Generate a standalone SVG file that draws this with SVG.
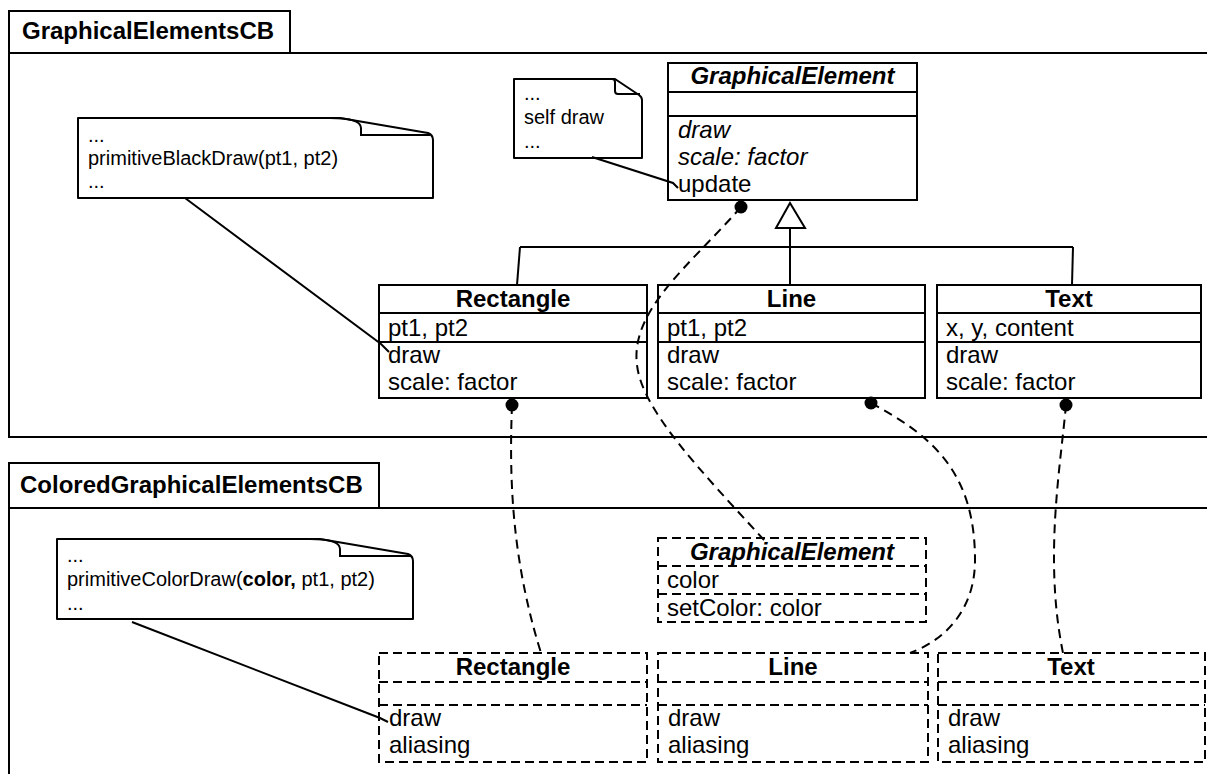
<svg xmlns="http://www.w3.org/2000/svg" width="1207" height="774" viewBox="0 0 1207 774">
<style>
.pk{fill:none;stroke:#000;stroke-width:2}
.box{fill:#fff;stroke:#000;stroke-width:2}
.dbox{fill:#fff;stroke:#000;stroke-width:2;stroke-dasharray:9 5}
.ln{fill:none;stroke:#000;stroke-width:2}
.dl{fill:none;stroke:#000;stroke-width:2;stroke-dasharray:9 5}
.dln{fill:none;stroke:#000;stroke-width:2;stroke-dasharray:9 6}
.note{fill:#fff;stroke:#000;stroke-width:2;stroke-linejoin:round}
.fold{fill:none;stroke:#000;stroke-width:2}
text{font-family:"Liberation Sans",Arial,Helvetica,sans-serif;fill:#000}
.t{font-size:24px}
.c{text-anchor:middle}
.b{font-weight:bold}
.i{font-style:italic}
.n{font-size:20px}
.dot{fill:#000}
</style>
<rect width="1207" height="774" fill="#fff"/>

<g id="pkg-graphical">
<path class="pk" d="M9,53 V11 H290 V53"/>
<path class="pk" d="M1208,53 H9 V437 H1208"/>
<text class="t b" x="22" y="39">GraphicalElementsCB</text>
</g>
<g id="pkg-colored">
<path class="pk" d="M9,508 V463 H379 V508"/>
<path class="pk" d="M1208,508 H9 V775"/>
<text class="t b" x="20" y="493">ColoredGraphicalElementsCB</text>
</g>

<g id="note-black">
<path class="note" d="M78,118 H340 L428,133 Q433,135 433,140 V198 H78 Z"/>
<path class="fold" d="M330,118 Q361,118 361,128 V135 H430"/>
<text class="n" x="88" y="142">...</text>
<text class="n" x="88" y="165">primitiveBlackDraw(pt1, pt2)</text>
<text class="n" x="88" y="188">...</text>
</g>

<g id="note-self">
<path class="note" d="M514,79 H615 L639,95 Q642,97 642,100 V158 H514 Z"/>
<path class="fold" d="M612,79 Q615,79 615,82 V91 Q615,94 618,94 H640"/>
<text class="n" x="524" y="100">...</text>
<text class="n" x="524" y="124">self draw</text>
<text class="n" x="524" y="148">...</text>
</g>

<g id="note-color">
<path class="note" d="M57,539 H320 L408,554 Q413,556 413,561 V619 H57 Z"/>
<path class="fold" d="M310,539 Q340,539 340,549 V556 H411"/>
<text class="n" x="67" y="562">...</text>
<text class="n" x="67" y="586">primitiveColorDraw(<tspan class="b">color,</tspan> pt1, pt2)</text>
<text class="n" x="67" y="610">...</text>
</g>

<g id="class-graphical-element">
<rect class="box" x="668" y="63" width="249" height="137"/>
<line class="ln" x1="668" y1="92" x2="917" y2="92"/>
<line class="ln" x1="668" y1="116" x2="917" y2="116"/>
<text class="t b i c" x="792.5" y="84">GraphicalElement</text>
<text class="t i" x="678" y="138">draw</text>
<text class="t i" x="678" y="165">scale: factor</text>
<text class="t" x="678" y="192">update</text>
</g>

<g id="class-rectangle">
<rect class="box" x="379" y="285" width="268" height="113"/>
<line class="ln" x1="379" y1="313" x2="647" y2="313"/>
<line class="ln" x1="379" y1="342" x2="647" y2="342"/>
<text class="t b c" x="513" y="307">Rectangle</text>
<text class="t" x="388" y="336">pt1, pt2</text>
<text class="t" x="388" y="363">draw</text>
<text class="t" x="388" y="390">scale: factor</text>
</g>

<g id="class-line">
<rect class="box" x="658" y="285" width="267" height="113"/>
<line class="ln" x1="658" y1="313" x2="925" y2="313"/>
<line class="ln" x1="658" y1="342" x2="925" y2="342"/>
<text class="t b c" x="791.5" y="307">Line</text>
<text class="t" x="667" y="336">pt1, pt2</text>
<text class="t" x="667" y="363">draw</text>
<text class="t" x="667" y="390">scale: factor</text>
</g>

<g id="class-text">
<rect class="box" x="937" y="285" width="264" height="113"/>
<line class="ln" x1="937" y1="313" x2="1201" y2="313"/>
<line class="ln" x1="937" y1="342" x2="1201" y2="342"/>
<text class="t b c" x="1069" y="307">Text</text>
<text class="t" x="946" y="336">x, y, content</text>
<text class="t" x="946" y="363">draw</text>
<text class="t" x="946" y="390">scale: factor</text>
</g>

<g id="ext-graphical-element">
<rect class="dbox" x="658" y="538" width="268" height="84"/>
<line class="dl" x1="658" y1="566" x2="926" y2="566"/>
<line class="dl" x1="658" y1="594" x2="926" y2="594"/>
<text class="t b i c" x="792" y="560">GraphicalElement</text>
<text class="t" x="667" y="588">color</text>
<text class="t" x="667" y="616">setColor: color</text>
</g>

<g id="ext-rectangle">
<rect class="dbox" x="379" y="653" width="268" height="109"/>
<line class="dl" x1="379" y1="682" x2="647" y2="682"/>
<line class="dl" x1="379" y1="705" x2="647" y2="705"/>
<text class="t b c" x="513" y="675">Rectangle</text>
<text class="t" x="389" y="726">draw</text>
<text class="t" x="389" y="753">aliasing</text>
</g>

<g id="ext-line">
<rect class="dbox" x="658" y="653" width="270" height="109"/>
<line class="dl" x1="658" y1="682" x2="928" y2="682"/>
<line class="dl" x1="658" y1="705" x2="928" y2="705"/>
<text class="t b c" x="793" y="675">Line</text>
<text class="t" x="668" y="726">draw</text>
<text class="t" x="668" y="753">aliasing</text>
</g>

<g id="ext-text">
<rect class="dbox" x="938" y="653" width="267" height="109"/>
<line class="dl" x1="938" y1="682" x2="1205" y2="682"/>
<line class="dl" x1="938" y1="705" x2="1205" y2="705"/>
<text class="t b c" x="1071" y="675">Text</text>
<text class="t" x="948" y="726">draw</text>
<text class="t" x="948" y="753">aliasing</text>
</g>

<g id="connectors">
<path class="ln" d="M520,247 H1073"/>
<path class="ln" d="M520,247 L517,285"/>
<path class="ln" d="M1073,247 L1072,285"/>
<path class="ln" d="M790,228 V285"/>
<polygon points="790,203 776,228 805,228" fill="#fff" stroke="#000" stroke-width="2"/>

<path class="ln" d="M185,198 L381,344 L389,352"/>
<path class="ln" d="M592,157 L673,183 L678,188"/>
<path class="ln" d="M132,622 L380,718 L388,722"/>

<path class="dln" d="M741,207 C690,265 630,310 637,365 C642,410 700,470 764,540"/>
<path class="dln" d="M512,405 C509,480 512,560 541,653"/>
<path class="dln" d="M871,403 C930,435 975,470 975,560 C975,610 945,640 910,653"/>
<path class="dln" d="M1066,405 C1060,470 1044,560 1063,653"/>

<circle class="dot" cx="741" cy="207" r="6.5"/>
<circle class="dot" cx="512" cy="405" r="6.5"/>
<circle class="dot" cx="871" cy="403" r="6.5"/>
<circle class="dot" cx="1066" cy="405" r="6.5"/>
</g>
</svg>
